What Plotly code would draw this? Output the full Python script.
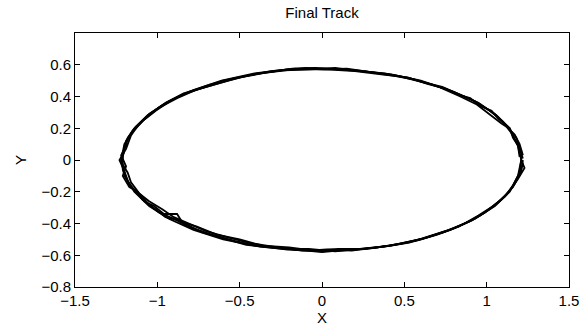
import plotly.graph_objects as go

# Track loops (x, y)
loop1_x = [1.21, 1.19, 1.14, 1.05, 0.93, 0.77, 0.60, 0.42, 0.21, 0.00, -0.21, -0.41, -0.61, -0.78, -0.93, -1.05, -1.14, -1.20, -1.22,
           -1.20, -1.14, -1.05, -0.93, -0.78, -0.60, -0.41, -0.21, 0.00, 0.21, 0.41, 0.60, 0.78, 0.93, 1.05, 1.14, 1.19, 1.21]
loop1_y = [0.00, 0.09, 0.20, 0.29, 0.37, 0.44, 0.50, 0.54, 0.565, 0.575, 0.57, 0.545, 0.50, 0.44, 0.37, 0.29, 0.20, 0.10, 0.00,
           -0.10, -0.20, -0.29, -0.37, -0.44, -0.50, -0.54, -0.565, -0.575, -0.565, -0.54, -0.50, -0.44, -0.37, -0.29, -0.20, -0.10, 0.00]

loop2_x = [1.22, 1.20, 1.18, 1.11, 1.06, 0.95, 0.86, 0.73, 0.61, 0.46, 0.32, 0.15, 0.01,
           -0.16, -0.31, -0.47, -0.60, -0.74, -0.85, -0.97, -1.04, -1.12, -1.16, -1.19, -1.23,
           -1.20, -1.17, -1.10, -1.06, -0.95, -0.87, -0.73, -0.61, -0.46, -0.30, -0.16, 0.00,
           0.16, 0.31, 0.46, 0.61, 0.74, 0.86, 0.96, 1.05, 1.12, 1.17, 1.21, 1.22]
loop2_y = [0.01, 0.08, 0.14, 0.23, 0.28, 0.36, 0.40, 0.46, 0.49, 0.53, 0.55, 0.575, 0.57,
           0.575, 0.56, 0.525, 0.50, 0.45, 0.41, 0.345, 0.295, 0.215, 0.155, 0.07, 0.00,
           -0.07, -0.16, -0.22, -0.27, -0.36, -0.38, -0.455, -0.49, -0.535, -0.55, -0.565, -0.58,
           -0.565, -0.555, -0.53, -0.495, -0.455, -0.405, -0.35, -0.285, -0.22, -0.15, -0.07, 0.00]

loop3_x = [1.20, 1.19, 1.15, 1.10, 1.02, 0.91, 0.80, 0.67, 0.53, 0.38, 0.23, 0.08, -0.08, -0.24, -0.39, -0.53, -0.68, -0.81,
           -0.91, -1.01, -1.09, -1.16, -1.20, -1.21, -1.21, -1.18, -1.14, -1.09, -0.99, -0.90, -0.81, -0.67, -0.53, -0.38,
           -0.23, -0.08, 0.08, 0.23, 0.38, 0.53, 0.67, 0.80, 0.91, 1.01, 1.09, 1.16, 1.20, 1.22]
loop3_y = [0.02, 0.09, 0.17, 0.24, 0.31, 0.38, 0.43, 0.475, 0.515, 0.545, 0.56, 0.58, 0.57, 0.565, 0.545, 0.515, 0.475, 0.43,
           0.38, 0.31, 0.245, 0.165, 0.09, 0.01, -0.06, -0.13, -0.19, -0.25, -0.33, -0.37, -0.42, -0.47, -0.51, -0.545,
           -0.56, -0.56, -0.575, -0.56, -0.545, -0.52, -0.475, -0.43, -0.38, -0.315, -0.25, -0.17, -0.09, -0.02]

loop4_x = [1.21, 1.21, 1.16, 1.14, 1.07, 1.03, 0.96, 0.90, 0.83, 0.75, 0.64, 0.52, 0.36, 0.20, 0.05, -0.10, -0.26, -0.42,
           -0.57, -0.71, -0.84, -0.95, -1.06, -1.13, -1.18, -1.19, -1.22, -1.19, -1.21, -1.17, -1.12, -1.08, -1.02, -0.96,
           -0.88, -0.85, -0.76, -0.64, -0.50, -0.36, -0.20, -0.06, 0.10, 0.26, 0.42, 0.57, 0.70, 0.83, 0.95, 1.04, 1.11,
           1.16, 1.20, 1.21]
loop4_y = [-0.01, 0.06, 0.14, 0.20, 0.26, 0.31, 0.34, 0.39, 0.41, 0.45, 0.48, 0.52, 0.54, 0.56, 0.57, 0.58, 0.56, 0.54,
           0.50, 0.46, 0.42, 0.36, 0.28, 0.21, 0.14, 0.09, 0.03, -0.04, -0.10, -0.17, -0.20, -0.26, -0.29, -0.34,
           -0.34, -0.39, -0.42, -0.47, -0.50, -0.54, -0.55, -0.57, -0.56, -0.56, -0.54, -0.51, -0.47, -0.42, -0.35, -0.29, -0.23,
           -0.16, -0.08, 0.00]

loop5_x = [1.22, 1.20, 1.17, 1.12, 1.09, 1.00, 0.94, 0.84, 0.71, 0.57, 0.44, 0.28, 0.12, -0.04, -0.18, -0.34, -0.50, -0.64,
           -0.77, -0.88, -0.99, -1.08, -1.15, -1.19, -1.20, -1.22, -1.18, -1.16, -1.11, -1.05, -0.97, -0.90, -0.79, -0.70,
           -0.56, -0.43, -0.27, -0.12, 0.03, 0.18, 0.34, 0.49, 0.63, 0.76, 0.89, 0.99, 1.07, 1.14, 1.19, 1.23, 1.21]
loop5_y = [0.03, 0.10, 0.16, 0.21, 0.23, 0.30, 0.35, 0.40, 0.46, 0.505, 0.53, 0.555, 0.57, 0.58, 0.575, 0.55, 0.52, 0.48,
           0.44, 0.39, 0.33, 0.255, 0.185, 0.12, 0.06, -0.01, -0.08, -0.14, -0.21, -0.26, -0.31, -0.36, -0.41, -0.45,
           -0.49, -0.525, -0.55, -0.57, -0.565, -0.57, -0.55, -0.525, -0.49, -0.445, -0.39, -0.33, -0.265, -0.195, -0.12, -0.05, 0.00]

x_ticks = [-1.5, -1, -0.5, 0, 0.5, 1, 1.5]
x_tick_labels = ["\u22121.5", "\u22121", "\u22120.5", "0", "0.5", "1", "1.5"]
y_ticks = [-0.8, -0.6, -0.4, -0.2, 0, 0.2, 0.4, 0.6]
y_tick_labels = ["\u22120.8", "\u22120.6", "\u22120.4", "\u22120.2", "0", "0.2", "0.4", "0.6"]

fig = go.Figure()
for lx, ly in [(loop1_x, loop1_y), (loop2_x, loop2_y), (loop3_x, loop3_y), (loop4_x, loop4_y), (loop5_x, loop5_y)]:
    fig.add_trace(go.Scatter(x=lx, y=ly, mode="lines", line=dict(color="black", width=1.8),
                             showlegend=False, hoverinfo="skip"))

font_family = "Liberation Sans, Arial, Helvetica, sans-serif"
axis_common = dict(showgrid=False, zeroline=False, showline=True, linecolor="black", linewidth=1,
                   mirror="ticks", ticks="inside", ticklen=5, tickcolor="black", automargin=False,
                   tickfont=dict(family=font_family, size=15, color="black"))

fig.update_layout(
    width=588, height=327,
    margin=dict(l=75, r=19, t=33, b=40),
    paper_bgcolor="white", plot_bgcolor="white",
    title=dict(text="Final Track", x=0.5, xref="paper", xanchor="center",
               y=1 - 13 / 327, yref="container", yanchor="middle",
               font=dict(family=font_family, size=15, color="black")),
    xaxis=dict(range=[-1.5, 1.5], tickvals=x_ticks, ticktext=x_tick_labels,
               title=dict(text="X", standoff=0, font=dict(family=font_family, size=15, color="black")),
               **axis_common),
    yaxis=dict(range=[-0.8, 0.8], tickvals=y_ticks, ticktext=y_tick_labels,
               title=dict(text="Y", standoff=11, font=dict(family=font_family, size=15, color="black")),
               **axis_common),
)

fig.write_html("out.html", config={"displayModeBar": False},
               post_script="document.body.style.margin='0';document.body.style.padding='0';")
